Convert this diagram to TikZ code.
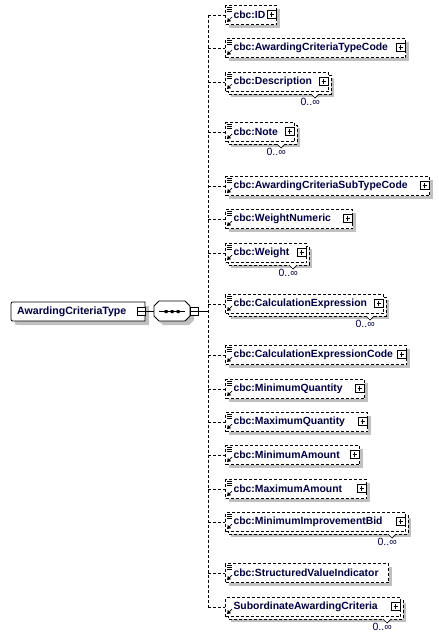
\documentclass[tikz,border=0pt]{standalone}
\usepackage{fontspec}
\setmainfont{Liberation Sans}
\definecolor{shad}{RGB}{192,192,192}
\definecolor{txt}{RGB}{0,0,64}
\tikzset{
  dline/.style={line width=1pt, dash pattern=on 3pt off 2pt},
  ebox/.style={draw, dline, fill=white, minimum height=19pt, inner xsep=0pt, inner ysep=0pt,
    align=left, font=\fontsize{10.4}{12}\selectfont\bfseries, text=txt},
  lbl/.style={inner sep=0pt, font=\fontsize{10.6}{12}\selectfont\bfseries, text=txt},
  mult/.style={font=\fontsize{10.5}{12}\selectfont, inner sep=0pt, text=txt},
  btn/.style={draw, line width=0.8pt, fill=white, minimum size=8pt, inner sep=0pt},
  solidln/.style={line width=0.8pt},
}
% #1 name, #2 top, #3 right, #4 label, #5 multi, #6 plus, #7 list icon
\newcommand\xelem[7]{%
  \pgfmathsetmacro\eW{#3-225}%
  \pgfmathsetmacro\eB{#2+19}%
  \pgfmathsetmacro\eC{#2+9.5}%
  \ifnum#5=1
    \fill[shad] (231,#2+6) rectangle (#3+6,\eB+6);
    \draw[dline,fill=white] (228,#2+3) rectangle (#3+3,\eB+3);
    \draw[line width=0.7pt,fill=white] (#3-17,\eB+3) -- (#3-13,\eB+7) -- (#3-9,\eB+3);
    \node[mult,anchor=east] (#1m) at (#3-8,#2+30) {0..∞};
  \else
    \fill[shad] (229,#2+4) rectangle (#3+4,\eB+4);
  \fi
  \node[ebox,text width=\eW pt,anchor=north west] (#1) at (225,#2) {\hspace*{8pt}#4};
  \ifnum#6=1
    \draw[btn] (#3-8.5,\eC-4.5) rectangle (#3,\eC+4);
    \draw[line width=0.8pt] (#3-6.5,\eC-0.25)--(#3-2,\eC-0.25) (#3-4.25,\eC-2.5)--(#3-4.25,\eC+2);
  \fi
  \ifnum#7=1
    \draw[line width=0.7pt] (227,#2+2.5) -- (232,#2+2.5) (227,#2+4.5) -- (232,#2+4.5) (227,#2+6.5) -- (232,#2+6.5);
  \fi
  \draw[line width=0.7pt] (228,\eB-3) -- (232,\eB-7);
  \fill (227,\eB-2) -- (231,\eB-2.8) -- (227.8,\eB-6) -- cycle;
}
\begin{document}
\begin{tikzpicture}[x=1pt,y=-1pt]
\useasboundingbox (0,0) rectangle (439,640);
% root element
\begin{scope}[shift={(4,4)}]
  \fill[shad] (145,302) -- (15,302) .. controls (11,302) .. (11,306) -- (11,317) .. controls (11,321) .. (15,321) -- (145,321) -- cycle;
\end{scope}
\draw[solidln,fill=white] (145,302) -- (15,302) .. controls (11,302) .. (11,306) -- (11,317) .. controls (11,321) .. (15,321) -- (145,321) -- cycle;
\node[inner sep=0pt,minimum width=134pt,minimum height=19pt] (root) at (78,311.5) {};
\node[lbl,anchor=west] (rootlbl) at (17,311.5) {AwardingCriteriaType};
\node[btn] (rootm) at (141,311.5) {};
\draw[solidln] (137.5,311.5) -- (144.5,311.5);
% sequence
\begin{scope}[shift={(4,4)}]
  \fill[shad] (159,301) -- (185,301) -- (190,306) -- (190,316) -- (185,321) -- (159,321) -- (154,316) -- (154,306) -- cycle;
\end{scope}
\draw[solidln,fill=white] (159,301) -- (185,301) -- (190,306) -- (190,316) -- (185,321) -- (159,321) -- (154,316) -- (154,306) -- cycle;
\node[inner sep=0pt,minimum width=36pt,minimum height=20pt] (seq) at (172,311.5) {};
\draw[solidln] (159,311.5) -- (185,311.5);
\fill (164.5,310) rectangle (167.5,313) (170.5,310) rectangle (173.5,313) (176.5,310) rectangle (179.5,313);
\node[btn] (seqm) at (194,311.5) {};
\draw[solidln] (190.5,311.5) -- (197.5,311.5);
\draw[solidln] (rootm.east) -- (seq.west);
\coordinate (spine) at (208,311.5);
\draw[solidln] (seqm.east) -- (spine);
% children
\xelem{e1}{5}{276}{cbc:ID}{0}{1}{1}
\xelem{e2}{38}{405}{cbc:AwardingCriteriaTypeCode}{0}{1}{1}
\xelem{e3}{72}{328}{cbc:Description}{1}{1}{1}
\xelem{e4}{122}{294}{cbc:Note}{1}{1}{1}
\xelem{e5}{176}{429}{cbc:AwardingCriteriaSubTypeCode}{0}{1}{1}
\xelem{e6}{209}{352}{cbc:WeightNumeric}{0}{1}{1}
\xelem{e7}{243}{306}{cbc:Weight}{1}{1}{1}
\xelem{e8}{294}{383}{cbc:CalculationExpression}{1}{1}{1}
\xelem{e9}{345}{406}{cbc:CalculationExpressionCode}{0}{1}{1}
\xelem{e10}{379}{364}{cbc:MinimumQuantity}{0}{1}{1}
\xelem{e11}{412}{367}{cbc:MaximumQuantity}{0}{1}{1}
\xelem{e12}{445}{359}{cbc:MinimumAmount}{0}{1}{1}
\xelem{e13}{479}{366}{cbc:MaximumAmount}{0}{1}{1}
\xelem{e14}{512}{405}{cbc:MinimumImprovementBid}{1}{1}{1}
\xelem{e15}{563}{388}{cbc:StructuredValueIndicator}{0}{0}{1}
\xelem{e16}{597}{400}{SubordinateAwardingCriteria}{1}{1}{0}
% spine and branches
\draw[dline] (e1.west -| spine) -- (e16.west -| spine);
\foreach \i in {1,...,16} {\draw[dline] (e\i.west -| spine) -- (e\i.west);}
\end{tikzpicture}
\end{document}
